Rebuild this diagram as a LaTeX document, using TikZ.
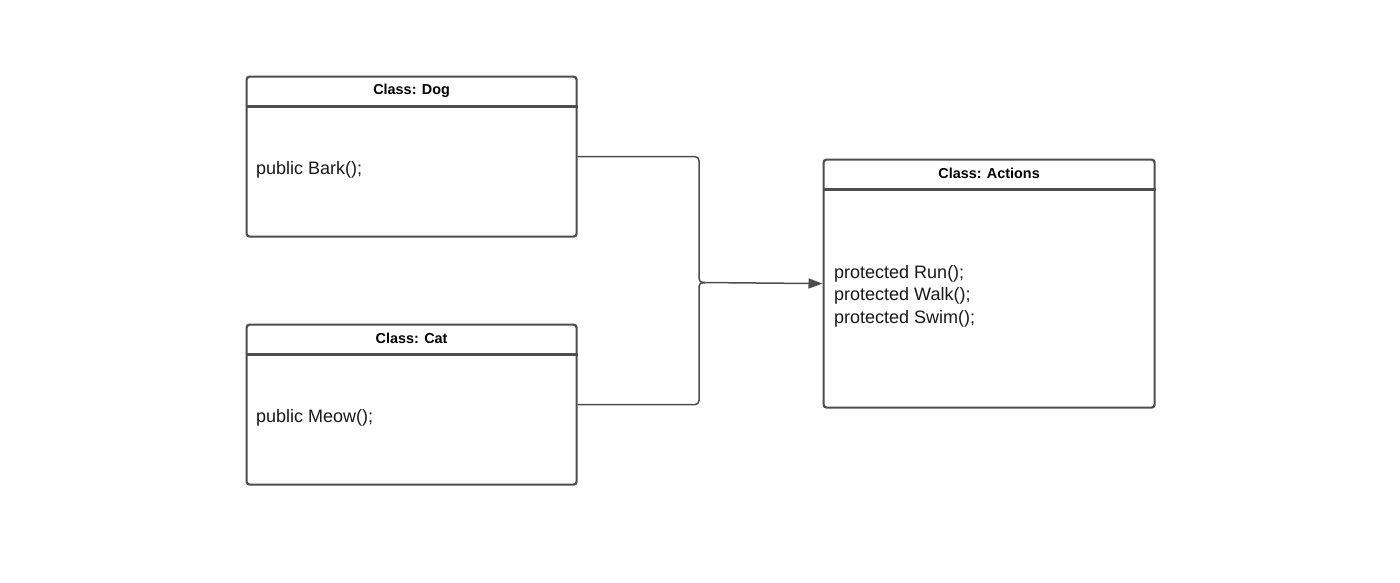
\documentclass[tikz,border=0pt]{standalone}
\usepackage{fontspec}
\setmainfont{Liberation Sans}
\usetikzlibrary{arrows.meta,calc}
\definecolor{linec}{HTML}{4D4D4D}
\tikzset{
  classbox/.style={draw=linec, line width=2.2pt, rounded corners=3pt, fill=white, anchor=north west, minimum width=330pt, inner sep=0pt},
  sepline/.style={draw=linec, line width=2.2pt},
  headtext/.style={font=\fontsize{14.4}{16}\selectfont\bfseries, text=black, inner sep=0pt},
  bodytext/.style={font=\fontsize{18}{22.5}\selectfont, text=black!90, inner sep=0pt, anchor=west, align=left},
  conn/.style={draw=linec, line width=1.5pt, rounded corners=4pt},
}
\begin{document}
\begin{tikzpicture}[x=1pt,y=-1pt]
\useasboundingbox[fill=white] (0,0) rectangle (1400,582);
% boxes
\node[classbox, minimum height=160pt] (dog) at (245.5,75.5) {};
\node[classbox, minimum height=160pt] (cat) at (245.5,323.5) {};
\node[classbox, minimum width=331pt, minimum height=248pt] (act) at (822.5,158.5) {};
% header separators
\draw[sepline] ([yshift=-31pt]dog.north west) -- ([yshift=-31pt]dog.north east);
\draw[sepline] ([yshift=-31pt]cat.north west) -- ([yshift=-31pt]cat.north east);
\draw[sepline] ([yshift=-31pt]act.north west) -- ([yshift=-31pt]act.north east);
% header texts
\node[headtext] (dogh) at ([yshift=-15pt]dog.north) {Class: Dog};
\node[headtext] (cath) at ([yshift=-15pt]cat.north) {Class: Cat};
\node[headtext] (acth) at ([yshift=-15pt]act.north) {Class: Actions};
% body texts
\node[bodytext] (dogb) at (256,170) {public Bark();};
\node[bodytext] (catb) at (256,418) {public Meow();};
\node[bodytext] (actb) at (834,296) {protected Run();\\protected Walk();\\protected Swim();};
% connectors
\coordinate (j) at (699,282.5);
\draw[conn] (dog.east) -| (j) -- ([xshift=6pt]j);
\draw[conn] (cat.east) -| (j) -- ([xshift=6pt]j);
\draw[conn, -{Triangle[length=14pt,width=10pt]}] ([xshift=3pt]j) -- (act.west);
\end{tikzpicture}
\end{document}
